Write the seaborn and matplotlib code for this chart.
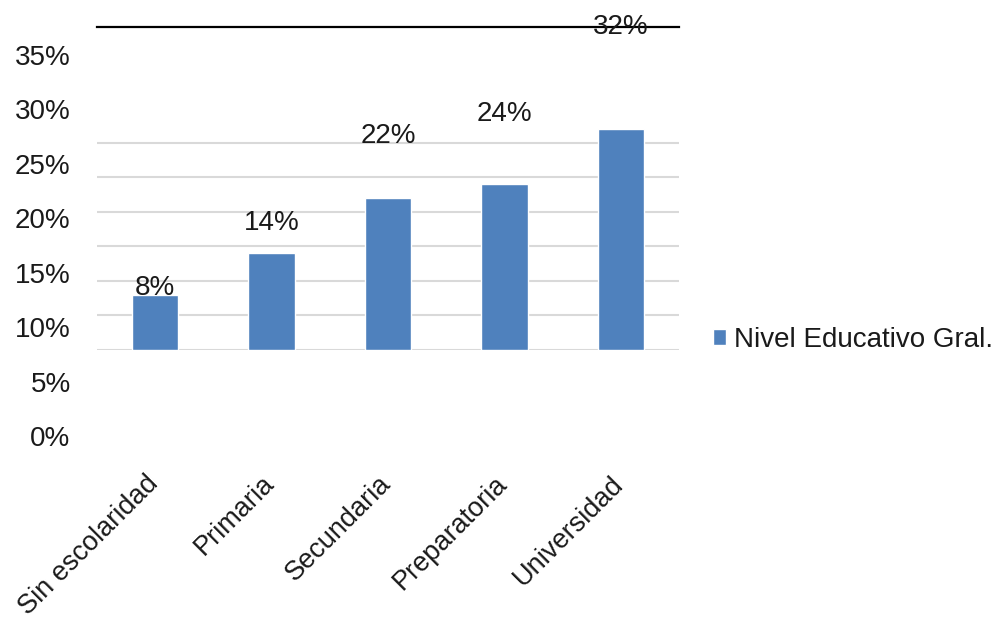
import matplotlib
matplotlib.use("Agg")
import matplotlib.pyplot as plt
import matplotlib.transforms as mtransforms
import seaborn as sns
import pandas as pd

categories = ["Sin escolaridad", "Primaria", "Secundaria", "Preparatoria", "Universidad"]
values = [8, 14, 22, 24, 32]
tick_values = [0, 5, 10, 15, 20, 25, 30, 35]
tick_labels = ["0%", "5%", "10%", "15%", "20%", "25%", "30%", "35%"]
series_name = "Nivel Educativo Gral."

sns.set_style("white")
plt.rcParams["font.family"] = ["Liberation Sans", "DejaVu Sans"]
TXT = "#1a1a1a"
BLUE = "#4F81BD"
FS = 20

W, H = 1005, 621
fig = plt.figure(figsize=(W / 100, H / 100), dpi=100)

def fx(px):
    return px / W

def fy(py):
    return 1 - py / H

# main plotting axes
ax = fig.add_axes([fx(97), fy(350), fx(679) - fx(97), fy(27) - fy(350)])
df = pd.DataFrame({"cat": categories, "val": values})
sns.barplot(data=df, x="cat", y="val", color=BLUE, width=0.4, ax=ax, saturation=1)
ax.set_xlim(-0.5, len(categories) - 0.5)
ax.set_ylim(0, 46.8)
ax.set_yticks([0, 5, 10, 15, 20, 25, 30])
ax.yaxis.grid(True, color="#d9d9d9", linewidth=1.5)
ax.set_axisbelow(True)
ax.tick_params(left=False, bottom=False, labelleft=False, labelbottom=False)
ax.set_xlabel("")
ax.set_ylabel("")
for s in ["left", "right", "bottom"]:
    ax.spines[s].set_visible(False)
ax.spines["top"].set_color("black")
ax.spines["top"].set_linewidth(1.6)

# label axes (offset scale as in original)
ax2 = fig.add_axes([fx(97), fy(436), fx(679) - fx(97), fy(55) - fy(436)])
ax2.patch.set_visible(False)
for s in ax2.spines.values():
    s.set_visible(False)
ax2.set_xlim(-0.5, len(categories) - 0.5)
ax2.set_ylim(0, 35)
ax2.set_yticks(tick_values)
ax2.set_yticklabels(tick_labels)
ax2.set_xticks(range(len(categories)))
ax2.set_xticklabels(categories)
ax2.tick_params(length=0, labelsize=FS, labelcolor=TXT)
ax2.tick_params(axis="y", pad=19)
ax2.tick_params(axis="x", pad=25, labelsize=19.5)
shift = mtransforms.ScaledTranslation(-10 / 100, 0, fig.dpi_scale_trans)
for lab in ax2.get_xticklabels():
    lab.set_rotation(45)
    lab.set_ha("right")
    lab.set_va("top")
    lab.set_rotation_mode("anchor")
    lab.set_transform(lab.get_transform() + shift)

for i, v in enumerate(values):
    ax2.text(i, v + 5.6, f"{v}%", ha="center", va="center", fontsize=FS, color=TXT)

leg = fig.legend(handles=[ax.patches[0]], labels=[series_name], loc="center left",
                 bbox_to_anchor=(fx(713), fy(340)), frameon=False, fontsize=FS,
                 handlelength=0.47, handleheight=0.47, handletextpad=0.3,
                 borderpad=0, borderaxespad=0)
for t in leg.get_texts():
    t.set_color(TXT)

fig.savefig("out.png", dpi=100)
